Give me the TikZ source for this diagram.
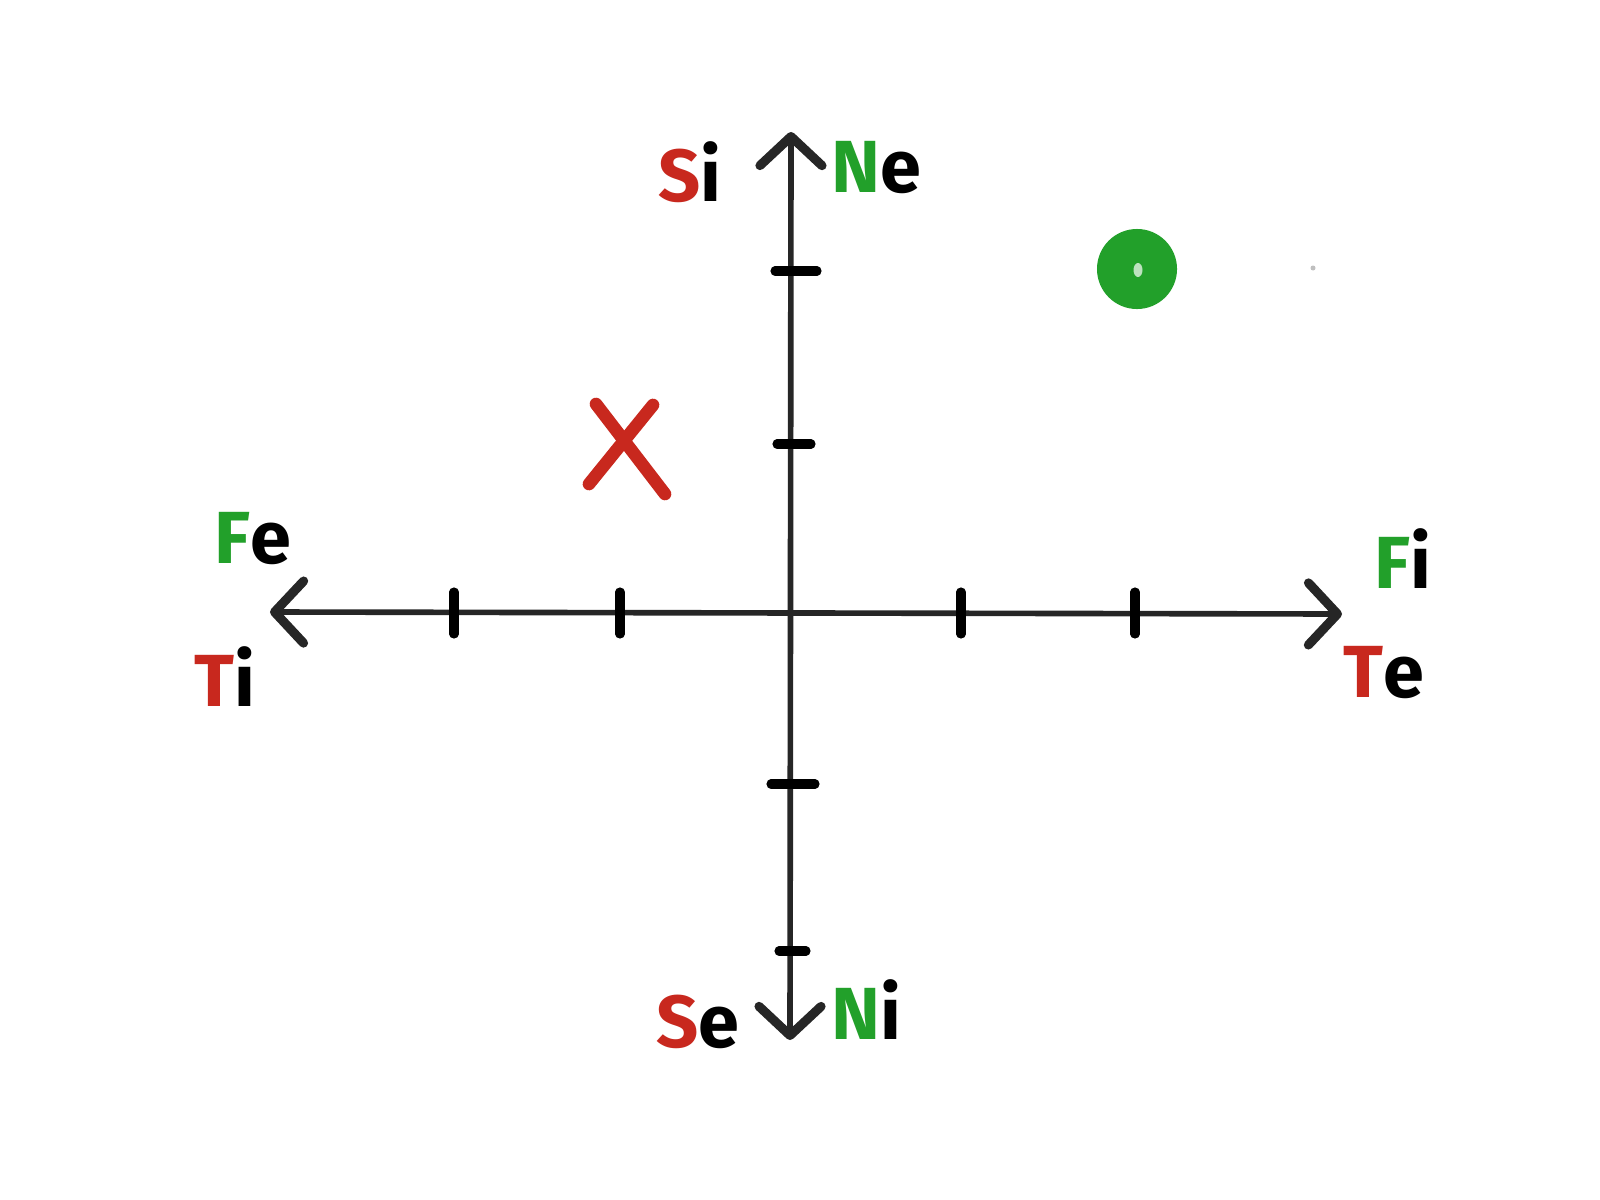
\documentclass[tikz,border=0pt]{standalone}
\usepackage{fontspec}
\setmainfont{Fira Sans}
\usetikzlibrary{arrows.meta,shapes.geometric}
\definecolor{hred}{HTML}{C8281E}
\definecolor{hgreen}{HTML}{22A02A}
\begin{document}
\begin{tikzpicture}[x=0.01cm,y=-0.01cm,
  axisline/.style={line width=1.6pt, draw=black!85,
    {Straight Barb[length=2.9mm,width=6.2mm,line width=2.6pt,round]}-{Straight Barb[length=2.9mm,width=6.2mm,line width=2.6pt,round]}},
  tickmark/.style={line width=2.6pt, line cap=round, draw=black},
  lbl/.style={font=\fontsize{21}{21}\selectfont\bfseries, inner sep=0pt},
  xstroke/.style={line width=3.6pt, line cap=round, draw=hred}]
\useasboundingbox[fill=white] (0,0) rectangle (1600,1200);
% axes
\coordinate (L) at (270,612);
\coordinate (R) at (1342,614);
\coordinate (T) at (791,132);
\coordinate (B) at (790,1040);
\draw[axisline] (L) -- (R);
\draw[axisline] (B) -- (T);
% ticks on horizontal axis
\foreach \n/\x in {a/454,b/620,c/961,d/1135}{
  \coordinate (h\n1) at (\x,592);
  \coordinate (h\n2) at (\x,634);
  \draw[tickmark] (h\n1) -- (h\n2);
}
% ticks on vertical axis
\foreach \n/\y/\a/\b in {a/271/775/817,b/444/777/811,c/784/771/815,d/951/779/806}{
  \coordinate (v\n1) at (\a,\y);
  \coordinate (v\n2) at (\b,\y);
  \draw[tickmark] (v\n1) -- (v\n2);
}
% labels
\node[lbl] (si) at (690,172) {\textcolor{hred}{S}\textcolor{black}{i}};
\node[lbl] (ne) at (876,168) {\textcolor{hgreen}{N}\textcolor{black}{e}};
\node[lbl] (se) at (698,1022) {\textcolor{hred}{S}\textcolor{black}{e}};
\node[lbl] (ni) at (866,1010) {\textcolor{hgreen}{N}\textcolor{black}{i}};
\node[lbl] (fe) at (253,539) {\textcolor{hgreen}{F}\textcolor{black}{e}};
\node[lbl] (ti) at (225,677) {\textcolor{hred}{T}\textcolor{black}{i}};
\node[lbl] (fi) at (1403,559) {\textcolor{hgreen}{F}\textcolor{black}{i}};
\node[lbl] (te) at (1384,673) {\textcolor{hred}{T}\textcolor{black}{e}};
% red X
\coordinate (x1) at (596,404);
\coordinate (x2) at (665,494);
\coordinate (x3) at (653,405);
\coordinate (x4) at (589,484);
\draw[xstroke] (x1) -- (x2);
\draw[xstroke] (x3) -- (x4);
% green dot
\node[circle, fill=hgreen, minimum size=0.8cm, inner sep=0pt] (dot) at (1137,269) {};
\node[ellipse, fill=hgreen!30, minimum width=0.09cm, minimum height=0.14cm, inner sep=0pt] (spot) at (1138,270) {};
% speck
\node[circle, fill=black!25, minimum size=0.05cm, inner sep=0pt] (speck) at (1313,268) {};
\end{tikzpicture}
\end{document}
